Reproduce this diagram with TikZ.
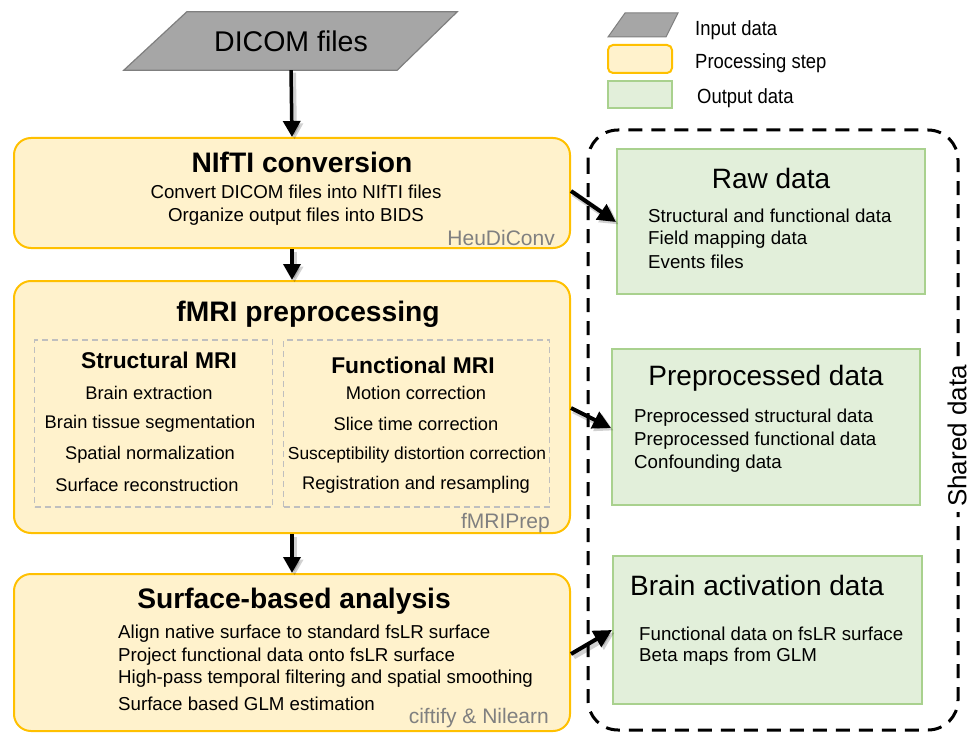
\documentclass[tikz,border=0pt]{standalone}
\usepackage{fontspec}
\setmainfont{Liberation Sans}
\newfontfamily\legendfont[FakeStretch=0.9]{Liberation Sans}
\usetikzlibrary{arrows.meta,backgrounds}

\definecolor{procfill}{HTML}{FFF2CC}
\definecolor{procdraw}{HTML}{FFC000}
\definecolor{outfill}{HTML}{E2EFDA}
\definecolor{outdraw}{HTML}{A9D18E}
\definecolor{infill}{HTML}{A6A6A6}
\definecolor{indraw}{HTML}{7F7F7F}
\definecolor{toolgray}{HTML}{808080}
\definecolor{subdash}{HTML}{BFBFBF}

\tikzset{
  procbox/.style={draw=procdraw, fill=procfill, line width=2pt, rounded corners=17pt,
    minimum width=556pt, inner sep=0pt},
  outbox/.style={draw=outdraw, fill=outfill, line width=2pt, inner sep=0pt},
  subbox/.style={draw=subdash, line width=1.6pt, dash pattern=on 6pt off 4pt, inner sep=0pt},
  boxtitle/.style={font=\fontsize{28.2}{32}\selectfont\bfseries, inner sep=0pt},
  outtitle/.style={font=\fontsize{28}{32}\selectfont, inner sep=0pt},
  bodytext/.style={font=\fontsize{18.7}{22}\selectfont, inner sep=0pt},
  subtext/.style={font=\fontsize{18.3}{22}\selectfont, inner sep=0pt},
  subtitle/.style={font=\fontsize{22.8}{26}\selectfont\bfseries, inner sep=0pt},
  tooltext/.style={font=\fontsize{21}{24}\selectfont, text=toolgray, inner sep=0pt, anchor=east},
  legtext/.style={font=\legendfont\fontsize{20.5}{24}\selectfont, anchor=west, inner sep=0pt},
  flow/.style={line width=3.5pt, -{Triangle[length=16pt,width=17pt]},
    preaction={draw=black, opacity=0.18, line width=5pt,
      transform canvas={shift={(2.5pt,-2.5pt)}}}},
  feed/.style={line width=4pt, -{Triangle[length=18pt,width=18pt]},
    preaction={draw=black, opacity=0.18, line width=6pt,
      transform canvas={shift={(2.5pt,-2.5pt)}}}},
}

\begin{document}
\begin{tikzpicture}[x=1pt,y=-1pt]
\useasboundingbox (0,0) rectangle (972,733);

% ---------- legend ----------
\path[draw=indraw, fill=infill, line width=1pt]
  (608,37) -- (666,37) -- (678,13) -- (625,13) -- cycle;
\node[draw=procdraw, fill=procfill, line width=2pt, rounded corners=5pt,
  minimum width=64pt, minimum height=28pt, inner sep=0pt] (legproc) at (640,59) {};
\node[draw=outdraw, fill=outfill, line width=2pt,
  minimum width=64pt, minimum height=27pt, inner sep=0pt] (legout) at (640,94.5) {};
\node[legtext] (leginput) at (695,30) {Input data};
\node[legtext] (legproctext) at (695,63) {Processing step};
\node[legtext] (legouttext) at (697,98) {Output data};

% ---------- input ----------
\node[minimum width=272pt, minimum height=58pt, inner sep=0pt,
  font=\fontsize{28.5}{32}\selectfont] (dicom) at (291,41) {DICOM files};
\begin{scope}[on background layer]
  \path[draw=indraw, fill=infill, line width=1.2pt]
    ([xshift=-31pt]dicom.south west) -- ([xshift=-30pt]dicom.south east)
    -- ([xshift=30pt]dicom.north east) -- ([xshift=32pt]dicom.north west) -- cycle;
\end{scope}

% ---------- shared data frame ----------
\draw[line width=3pt, dash pattern=on 14pt off 9pt, rounded corners=30pt]
  (588,130) rectangle (958,730);
\node[fill=white, rotate=90, inner xsep=5pt, inner ysep=3pt,
  font=\fontsize{26}{30}\selectfont] (shared) at (957,436) {Shared data};

% ---------- processing steps ----------
\node[procbox, minimum height=110pt] (nifti) at (292,193) {};
\node[boxtitle] (niftititle) at (302,162) {NIfTI conversion};
\node[bodytext] (niftia) at (296,192) {Convert DICOM files into NIfTI files};
\node[bodytext] (niftib) at (296,217) {Organize output files into BIDS};
\node[tooltext] (heudiconv) at (555,238) {HeuDiConv};

\node[procbox, minimum height=252pt] (fmriprep) at (292,407) {};
\node[boxtitle] (fmrititle) at (308,314) {fMRI preprocessing};
\node[subbox, minimum width=238pt, minimum height=167pt] (structbox) at (153.5,423.5) {};
\node[subbox, minimum width=266pt, minimum height=167pt] (funcbox) at (416.5,423.5) {};
\node[subtitle] (structtitle) at (159,360) {Structural MRI};
\node[subtext] (sa) at (149,393) {Brain extraction};
\node[subtext] (sb) at (150,424) {Brain tissue segmentation};
\node[subtext] (sc) at (150,455) {Spatial normalization};
\node[subtext] (sd) at (147,485) {Surface reconstruction};
\node[subtitle] (functitle) at (413,365) {Functional MRI};
\node[subtext] (fa) at (416,393) {Motion correction};
\node[subtext] (fb) at (416,424) {Slice time correction};
\node[subtext, font=\fontsize{17.4}{21}\selectfont] (fc) at (417,455) {Susceptibility distortion correction};
\node[subtext] (fd) at (416,485) {Registration and resampling};
\node[tooltext] (fmriprepname) at (550,523) {fMRIPrep};

\node[procbox, minimum height=157pt] (surf) at (292,652.5) {};
\node[boxtitle] (surftitle) at (294,601) {Surface-based analysis};
\node[bodytext, anchor=west] (ua) at (118,634) {Align native surface to standard fsLR surface};
\node[bodytext, anchor=west] (ub) at (118,657) {Project functional data onto fsLR surface};
\node[bodytext, anchor=west] (uc) at (118,679) {High-pass temporal filtering and spatial smoothing};
\node[bodytext, anchor=west] (ud) at (118,704) {Surface based GLM estimation};
\node[tooltext] (ciftify) at (549,718) {ciftify \& Nilearn};

% ---------- outputs ----------
\node[outbox, minimum width=308pt, minimum height=145pt] (raw) at (771,221.5) {};
\node[outtitle] (rawtitle) at (771,178) {Raw data};
\node[bodytext, anchor=west] (ra) at (648,216) {Structural and functional data};
\node[bodytext, anchor=west] (rb) at (648,240) {Field mapping data};
\node[bodytext, anchor=west] (rc) at (648,262) {Events files};

\node[outbox, minimum width=308pt, minimum height=156pt] (prep) at (766,427) {};
\node[outtitle] (preptitle) at (766,378) {Preprocessed data};
\node[bodytext, anchor=west] (pa) at (634,418) {Preprocessed structural data};
\node[bodytext, anchor=west] (pb) at (634,441) {Preprocessed functional data};
\node[bodytext, anchor=west] (pc) at (634,464) {Confounding data};

\node[outbox, minimum width=309pt, minimum height=148pt] (act) at (767.5,630) {};
\node[outtitle, anchor=west] (acttitle) at (630,585) {Brain activation data};
\node[bodytext, anchor=west] (aa) at (639,634) {Functional data on fsLR surface};
\node[bodytext, anchor=west] (ab) at (639,657) {Beta maps from GLM};

% ---------- connectors ----------
\draw[flow] (dicom.south) -- (nifti.north);
\draw[flow] (nifti.south) -- (fmriprep.north);
\draw[flow] (fmriprep.south) -- (surf.north);

\draw[feed] ([yshift=2pt]nifti.east) -- (raw.west |- 0,222);
\draw[feed] (fmriprep.east |- 0,408) -- (prep.west |- 0,428);
\draw[feed] (surf.east |- 0,654) -- (act.west |- 0,630);
\end{tikzpicture}
\end{document}
